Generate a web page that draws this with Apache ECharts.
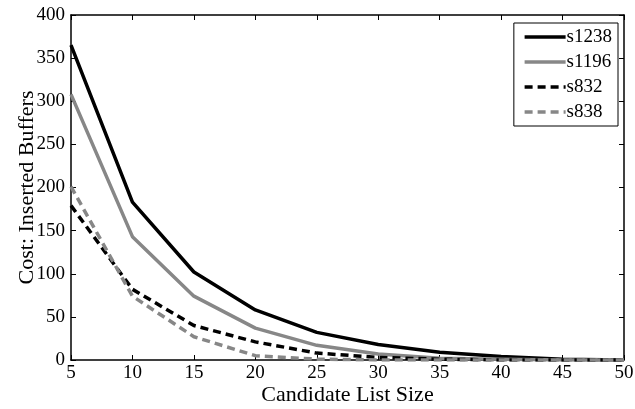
<!DOCTYPE html>
<html>
<head>
<meta charset="utf-8">
<script src="https://cdn.jsdelivr.net/npm/echarts@6/dist/echarts.min.js"></script>
<style>
  html, body { margin: 0; padding: 0; background: #fff; }
  #chart { width: 635px; height: 409px; }
</style>
</head>
<body>
<div id="chart"></div>
<script>
// candidate list sizes
const sizes = [5, 10, 15, 20, 25, 30, 35, 40, 45, 50];

// inserted buffers per benchmark
const s1238 = [365, 183, 102, 58, 32, 18, 9, 4, 1, 0];
const s1196 = [308, 143, 74, 37, 17, 7, 2, 1, 0, 0];
const s832 = [179, 82, 40, 21, 8, 3, 1, 0, 0, 0];
const s838 = [201, 74, 27, 5, 1, 0, 0, 0, 0, 0];

const font = 'Liberation Serif';
const gray = '#878787';

function pairs(vals) {
  return sizes.map((x, i) => [x, vals[i]]);
}

function mkSeries(name, vals, color, dashed) {
  return {
    name: name,
    type: 'line',
    data: pairs(vals),
    symbol: 'none',
    lineStyle: { color: color, width: 3.5, type: dashed ? [8, 5] : 'solid' },
    itemStyle: { color: color },
    animation: false
  };
}

const chart = echarts.init(document.getElementById('chart'), null, { renderer: 'canvas' });

const baseX = {
  type: 'value', min: 5, max: 50, interval: 5,
  axisLine: { show: true, onZero: false, lineStyle: { color: '#000', width: 1.5 } },
  axisTick: { show: true, inside: true, length: 5, lineStyle: { color: '#000' } },
  splitLine: { show: false }
};
const baseY = {
  type: 'value', min: 0, max: 400, interval: 50,
  axisLine: { show: true, onZero: false, lineStyle: { color: '#000', width: 1.5 } },
  axisTick: { show: true, inside: true, length: 5, lineStyle: { color: '#000' } },
  splitLine: { show: false }
};

chart.setOption({
  backgroundColor: '#fff',
  animation: false,
  grid: { left: 71, right: 11, top: 15, bottom: 49, containLabel: false, outerBoundsMode: 'none' },
  xAxis: [
    Object.assign({}, baseX, {
      position: 'bottom',
      name: 'Candidate List Size',
      nameLocation: 'middle',
      nameGap: 24,
      nameMoveOverlap: false,
      nameTextStyle: { fontFamily: font, fontSize: 22, color: '#000' },
      axisLabel: { fontFamily: font, fontSize: 19, color: '#000', margin: 4 }
    }),
    Object.assign({}, baseX, { position: 'top', axisLabel: { show: false } })
  ],
  yAxis: [
    Object.assign({}, baseY, {
      position: 'left',
      name: 'Cost: Inserted Buffers',
      nameLocation: 'middle',
      nameGap: 33,
      nameMoveOverlap: false,
      nameTextStyle: { fontFamily: font, fontSize: 22, color: '#000' },
      axisLabel: { fontFamily: font, fontSize: 19, color: '#000', margin: 6 }
    }),
    Object.assign({}, baseY, { position: 'right', axisLabel: { show: false } })
  ],
  legend: {
    orient: 'vertical',
    right: 17,
    top: 23,
    backgroundColor: '#fff',
    borderColor: '#000',
    borderWidth: 1,
    borderRadius: 0,
    padding: [4, 6, 4, 9],
    itemWidth: 41,
    itemHeight: 10,
    itemGap: 5,
    itemStyle: { opacity: 0 },
    lineStyle: { width: 3.5 },
    textStyle: { fontFamily: font, fontSize: 19, color: '#000', lineHeight: 20, padding: [0, 0, 0, -4] },
    data: ['s1238', 's1196', 's832', 's838']
  },
  series: [
    mkSeries('s1238', s1238, '#000', false),
    mkSeries('s1196', s1196, gray, false),
    mkSeries('s832', s832, '#000', true),
    mkSeries('s838', s838, gray, true)
  ]
});
</script>
</body>
</html>
